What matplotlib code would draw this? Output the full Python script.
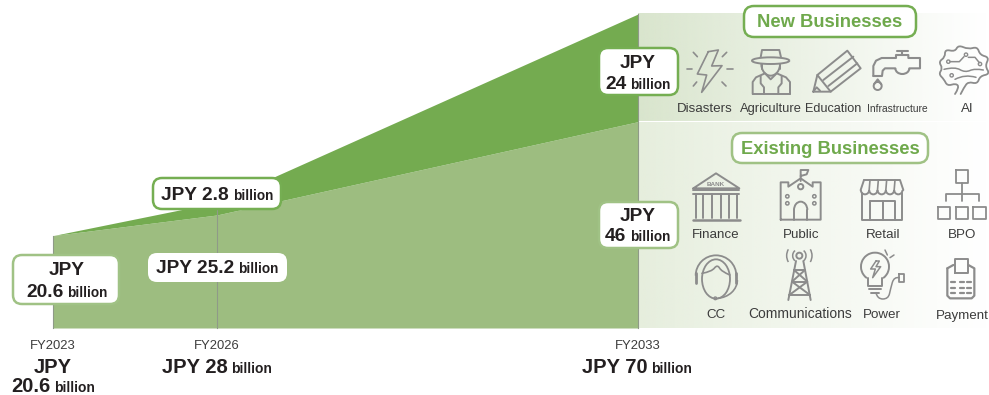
import numpy as np
import matplotlib
matplotlib.use("Agg")
import matplotlib.pyplot as plt
from matplotlib.patches import FancyBboxPatch, Circle, Ellipse, Arc, PathPatch
from matplotlib.path import Path

plt.rcParams["font.family"] = ["Liberation Sans", "DejaVu Sans"]

years = [2023, 2026, 2033]
existing = [20.6, 25.2, 46]
new_biz = [0, 2.8, 24]
totals = [20.6, 28, 70]
new_labels = ["Disasters", "Agriculture", "Education", "Infrastructure", "AI"]
existing_labels = ["Finance", "Public", "Retail", "BPO", "CC", "Communications", "Power", "Payment"]

W, H = 989, 395
DARK = "#74ab50"
LIGHT = "#9dbd80"
EDGE_DARK = "#75ae52"
EDGE_LIGHT = "#a0c285"
GREY = "#8c8c8c"
INK = "#231f20"
LABEL = "#3c3c3c"

fig = plt.figure(figsize=(W / 100, H / 100), dpi=100)

# overlay in pixel coordinates, y running down
pg = fig.add_axes([0, 0, 1, 1], zorder=1)
pg.axis("off")

# gradient panels behind the icons
def panel(y0, y1, color):
    ramp = np.ones((2, 200, 4))
    ramp[..., :3] = matplotlib.colors.to_rgb(color)
    ramp[..., 3] = np.linspace(1, 0, 200) ** 1.1
    pg.imshow(ramp, extent=(638, W, y1, y0), aspect="auto", zorder=0, interpolation="bilinear")

panel(14, 121.5, "#d9e5cd")
panel(122.5, 328, "#e6eedd")
pg.set_xlim(0, W)
pg.set_ylim(H, 0)

# the area chart sits on a fiscal-year axis with uneven spacing
ax = fig.add_axes([53 / W, (H - 328) / H, (638 - 53) / W, (328 - 14) / H], zorder=2)
ax.patch.set_alpha(0)
year_px = [0, 164, 585]
ax.set_xscale("function", functions=(lambda v: np.interp(v, years, year_px),
                                     lambda v: np.interp(v, year_px, years)))
ax.set_xlim(2023, 2033)
ax.set_ylim(0, 70)
ax.axis("off")
ax.fill_between(years, 0, existing, color=LIGHT, lw=0)
ax.fill_between(years, existing, totals, color=DARK, lw=0)
for yr, tot in zip(years, totals):
    ax.plot([yr, yr], [0, tot], color="#8f9a88", lw=0.8, clip_on=False)

# top layer for boxes, text and icons
top = fig.add_axes([0, 0, 1, 1], zorder=3)
top.set_xlim(0, W)
top.set_ylim(H, 0)
top.axis("off")


def box(x0, y0, x1, y1, edge=None, r=9):
    top.add_patch(FancyBboxPatch((x0 + r, y0 + r), x1 - x0 - 2 * r, y1 - y0 - 2 * r,
                                 boxstyle=f"round,pad={r},rounding_size={r}",
                                 fc="white", ec=edge or "white", lw=1.8 if edge else 0))


def mixed(cx, y, big, small, bs=13.8, ss=9.8):
    # big figure followed by a smaller unit on one baseline, centred together
    r = fig.canvas.get_renderer()
    a = top.text(0, y, big, fontsize=bs, fontweight="bold", color=INK, va="baseline", ha="left")
    b = top.text(0, y, small, fontsize=ss, fontweight="bold", color=INK, va="baseline", ha="left")
    wa = a.get_window_extent(r).width
    wb = b.get_window_extent(r).width
    gap = 4
    a.set_x(cx - (wa + wb + gap) / 2)
    b.set_x(cx - (wa + wb + gap) / 2 + wa + gap)


def big(cx, y, s, fs=13.8):
    top.text(cx, y, s, fontsize=fs, fontweight="bold", color=INK, ha="center", va="baseline")


def label(cx, y, s, fs=9.6):
    top.text(cx, y, s, fontsize=fs, color=LABEL, ha="center", va="baseline")


# value boxes on the chart
box(153, 178, 281, 209, EDGE_DARK)
mixed(217, 200, f"JPY {new_biz[1]}", "billion")
box(148, 253, 287, 282)
mixed(217, 273, f"JPY {existing[1]}", "billion")
box(13, 255, 119, 304, EDGE_LIGHT)
big(67, 275, "JPY")
mixed(67, 297, f"{existing[0]}", "billion")
box(599, 48, 678, 95, EDGE_DARK)
big(638, 68, "JPY")
mixed(638, 89, f"{new_biz[2]}", "billion")
box(599, 202, 678, 248, EDGE_LIGHT)
big(638, 221, "JPY")
mixed(638, 241, f"{existing[2]}", "billion")

# totals under the axis
for yr, cx in zip(years, [53, 217, 638]):
    label(cx, 349, f"FY{yr}", 9.4)
big(53, 373, "JPY", 14.5)
mixed(53, 392, f"{totals[0]}", "billion", 14.5, 10)
mixed(217, 373, f"JPY {totals[1]}", "billion", 14.5, 10)
mixed(637, 373, f"JPY {totals[2]}", "billion", 14.5, 10)

# section headings
box(744, 6, 916, 37, EDGE_DARK, r=10)
top.text(830, 27, "New Businesses", fontsize=13.2, fontweight="bold", color="#6fa94c", ha="center", va="baseline")
box(732, 133, 928, 163, EDGE_LIGHT, r=10)
top.text(830, 154, "Existing Businesses", fontsize=13.2, fontweight="bold", color="#6fa94c", ha="center", va="baseline")

# item captions
for s, cx in zip(new_labels, [705, 771, 833, 897, 967]):
    fs = {"Infrastructure": 7.4, "Education": 9.1, "Agriculture": 9.3}.get(s, 9.6)
    label(cx, 112, s, fs)
for s, cx, y in zip(existing_labels, [716, 801, 883, 962, 716, 800, 882, 962],
                    [238.5, 238.5, 238.5, 238.5, 318.5, 318.5, 318.5, 318.5]):
    label(cx, y, s, 10 if s == "Communications" else 9.6)


# icon strokes, given in a 3x grid anchored at the panel corners
def up(p):
    p = np.asarray(p, float)
    return 640 + p[:, 0] / 3, p[:, 1] / 3


def lo(p):
    p = np.asarray(p, float)
    return 640 + p[:, 0] / 3, 125 + p[:, 1] / 3


def ln(conv, pts, lw=1.4, closed=False):
    if closed:
        pts = list(pts) + [pts[0]]
    x, y = conv(pts)
    top.plot(x, y, color=GREY, lw=lw, solid_capstyle="round", solid_joinstyle="round")


def curve(conv, pts, lw=1.2):
    # quadratic segments through the midpoints of the control points
    x, y = conv(pts)
    p = np.column_stack([x, y])
    verts = [tuple(p[0])]
    codes = [Path.MOVETO]
    for i in range(1, len(p) - 1):
        end = p[i + 1] if i == len(p) - 2 else (p[i] + p[i + 1]) / 2
        verts += [tuple(p[i]), tuple(end)]
        codes += [Path.CURVE3, Path.CURVE3]
    top.add_patch(PathPatch(Path(verts, codes), fc="none", ec=GREY, lw=lw, capstyle="round"))


def ci(conv, cx, cy, r, lw=1.4):
    x, y = conv([(cx, cy)])
    top.add_patch(Circle((x[0], y[0]), r / 3, fc="none", ec=GREY, lw=lw))


def arc(conv, cx, cy, w, h, t0, t1, lw=1.4):
    x, y = conv([(cx, cy)])
    top.add_patch(Arc((x[0], y[0]), w / 3, h / 3, theta1=t0, theta2=t1, ec=GREY, lw=lw))


# disasters
ln(up, [(205, 155), (235, 150), (215, 198), (246, 197), (185, 277), (200, 225), (172, 222)], closed=True, lw=1.2)
for seg in [[(160, 157), (172, 170)], [(260, 157), (247, 170)], [(140, 207), (155, 207)], [(262, 207), (278, 207)],
            [(160, 258), (170, 246)], [(258, 258), (246, 246)]]:
    ln(up, seg, lw=1.2)

# agriculture
ln(up, [(362, 172), (366, 150), (418, 150), (423, 172)])
arc(up, 392, 182, 112, 20, 0, 360)
arc(up, 392, 192, 56, 70, 0, 180)
ln(up, [(365, 192), (365, 208)])
ln(up, [(420, 192), (420, 208)])
ln(up, [(338, 282), (338, 246), (348, 232), (375, 220), (392, 238), (410, 220), (438, 232), (450, 246), (450, 282)])
ln(up, [(338, 282), (450, 282)])
ln(up, [(362, 228), (362, 250), (372, 262), (372, 282)])
ln(up, [(425, 228), (425, 250), (415, 262), (415, 282)])

# education
ln(up, [(520, 275), (532, 225), (622, 152), (662, 205), (572, 275)], closed=True)
ln(up, [(532, 225), (572, 275)])
ln(up, [(550, 240), (640, 170)])
ln(up, [(565, 258), (652, 190)])
ln(up, [(520, 275), (530, 262), (540, 272)])

# infrastructure
ln(up, [(700, 228), (700, 198), (708, 182), (725, 174), (768, 174), (768, 165), (805, 165), (805, 174), (840, 174),
        (840, 205), (808, 205)], lw=1.5)
arc(up, 787, 205, 42, 34, 0, 180, lw=1.5)
ln(up, [(766, 205), (735, 205), (728, 212), (726, 228), (700, 228)], lw=1.5)
ln(up, [(787, 165), (787, 153)], lw=1.5)
ln(up, [(770, 153), (805, 153)], lw=1.5)
ci(up, 713, 258, 12)
ln(up, [(702, 253), (713, 238), (724, 253)])

# AI
curve(up, [(945, 282), (958, 262), (948, 250), (922, 258), (912, 238), (896, 222), (908, 205), (896, 185), (915, 172),
           (915, 148), (945, 155), (955, 135), (985, 148), (1012, 140), (1020, 165), (1048, 172), (1035, 198),
           (1050, 222), (1020, 228), (1012, 252), (985, 245), (972, 262), (962, 282)], lw=1.3)
ln(up, [(930, 185), (958, 185), (972, 170)], lw=1.1)
curve(up, [(912, 208), (945, 200), (975, 218), (1005, 205), (1030, 210)], lw=1.1)
ln(up, [(985, 172), (1005, 172), (1018, 188)], lw=1.1)
curve(up, [(945, 238), (975, 222), (1008, 232)], lw=1.1)
for c in [(925, 185), (978, 164), (1020, 192), (935, 226)]:
    ci(up, c[0], c[1], 5, lw=1)

# finance
ln(lo, [(160, 190), (228, 145), (298, 190)], closed=True)
ln(lo, [(160, 196), (298, 196)])
ln(lo, [(160, 208), (298, 208)])
for cx in [168, 190, 215, 242, 268, 290]:
    ln(lo, [(cx, 208), (cx, 280)])
ln(lo, [(158, 284), (300, 284)], lw=1.8)
top.text(716, 125 + 180 / 3, "BANK", fontsize=4.6, fontweight="bold", color=GREY, ha="center", va="center")

# public
ln(lo, [(482, 168), (482, 135), (505, 135), (500, 148), (482, 153)])
ln(lo, [(422, 284), (422, 172), (445, 172), (445, 185), (482, 160), (518, 185), (518, 172), (542, 172), (542, 284)], closed=True)
ci(lo, 482, 185, 8)
arc(lo, 482, 255, 40, 50, 180, 360)
ln(lo, [(462, 255), (462, 284)])
ln(lo, [(502, 255), (502, 284)])
for cx in [442, 523]:
    ci(lo, cx, 214, 5, lw=1.1)
    ci(lo, cx, 235, 5, lw=1.1)

# retail
ln(lo, [(665, 205), (665, 285), (785, 285), (785, 205)])
ln(lo, [(672, 165), (780, 165), (790, 195)])
ln(lo, [(672, 165), (662, 195)])
for i, cx in enumerate([675, 700, 725, 750, 775]):
    arc(lo, cx, 195, 25, 26, 0, 180)
    if i:
        ln(lo, [(cx - 12.5, 195), (cx - 10, 165)], lw=1.2)
ln(lo, [(690, 228), (765, 228), (765, 285)])
ln(lo, [(690, 228), (690, 285)])
ln(lo, [(728, 228), (728, 285)])

# bpo
ln(lo, [(947, 135), (985, 135), (985, 175), (947, 175)], closed=True, lw=1.3)
ln(lo, [(965, 175), (965, 228)], lw=1.3)
ln(lo, [(917, 228), (917, 207), (1017, 207), (1017, 228)], lw=1.3)
for x0 in [893, 947, 1000]:
    ln(lo, [(x0, 245), (x0 + 37, 245), (x0 + 37, 282), (x0, 282)], closed=True, lw=1.3)

# cc
top.add_patch(Ellipse((640 + 228 / 3, 125 + 462 / 3), 84 / 3, 118 / 3, fc="none", ec=GREY, lw=1.3))
arc(lo, 228, 452, 122, 122, 180, 360, lw=1.3)
curve(lo, [(186, 445), (215, 440), (232, 418), (245, 440), (270, 450)], lw=1.2)
arc(lo, 228, 465, 128, 110, 0, 85, lw=1.2)
ln(lo, [(168, 445), (168, 475)], lw=2)
ln(lo, [(288, 445), (288, 475)], lw=2)
ci(lo, 226, 520, 4, lw=1)

# communications
ln(lo, [(445, 525), (468, 408)])
ln(lo, [(512, 525), (490, 408)])
ln(lo, [(462, 435), (495, 435)])
ln(lo, [(456, 470), (502, 470)])
ln(lo, [(448, 510), (510, 510)])
ln(lo, [(462, 435), (502, 470), (448, 510)])
ln(lo, [(495, 435), (456, 470), (510, 510)])
ci(lo, 478, 392, 9)
arc(lo, 478, 392, 40, 40, 130, 230, lw=1.1)
arc(lo, 478, 392, 40, 40, -50, 50, lw=1.1)
arc(lo, 478, 392, 76, 76, 150, 210, lw=1.1)
arc(lo, 478, 392, 76, 76, -30, 30, lw=1.1)

# power
arc(lo, 705, 425, 84, 84, 125, 415)
ln(lo, [(684, 460), (684, 482), (726, 482), (726, 460)])
ln(lo, [(686, 492), (724, 492)])
ln(lo, [(692, 503), (718, 503)])
ln(lo, [(708, 408), (692, 432), (706, 432), (698, 458), (722, 425), (708, 425), (718, 408)], closed=True, lw=1.1)
ln(lo, [(735, 375), (742, 390)], lw=1.1)
ln(lo, [(750, 398), (762, 390)], lw=1.1)
curve(lo, [(708, 503), (712, 522), (745, 522), (752, 490), (762, 455), (778, 458)], lw=1.1)
ln(lo, [(778, 448), (792, 448), (792, 472), (778, 472)], closed=True, lw=1.3)

# payment
ln(lo, [(922, 430), (922, 512), (930, 520), (995, 520), (1003, 512), (1003, 430), (985, 420)], lw=1.6)
ln(lo, [(922, 430), (940, 420)], lw=1.6)
ln(lo, [(945, 445), (945, 402), (985, 402), (985, 445), (945, 445)], lw=1.4)
for py in [472, 488, 505]:
    for px in [940, 965, 988]:
        ln(lo, [(px - 6, py), (px + 6, py)], lw=1.6)

fig.savefig("out.png", dpi=100)
